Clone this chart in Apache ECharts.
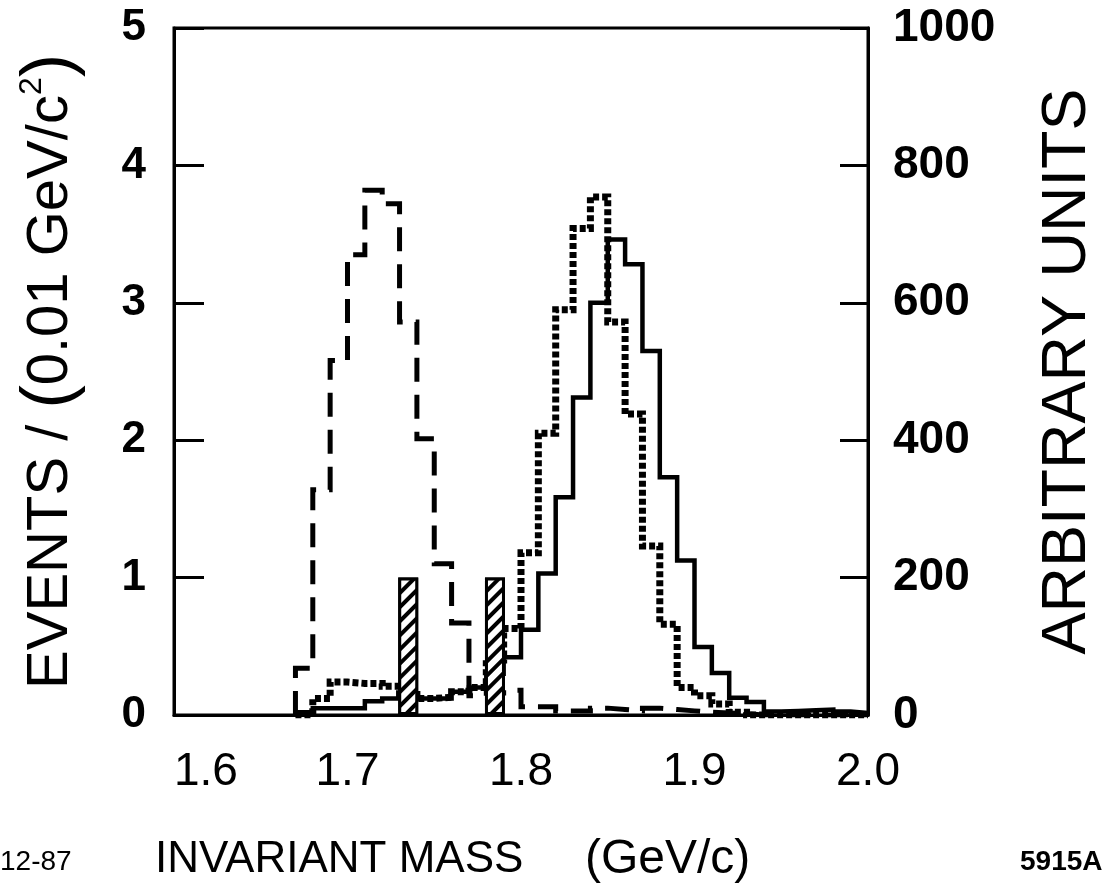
<!DOCTYPE html>
<html><head><meta charset="utf-8">
<script src="https://cdn.jsdelivr.net/npm/echarts@6/dist/echarts.min.js"></script>
<style>html,body{margin:0;padding:0;background:#fff}#c{width:1102px;height:896px}</style>
</head><body><div id="c"></div>
<script>
// Histogram bins: lower edge of each 0.01 GeV bin
const binLow = [1.67,1.68,1.69,1.70,1.71,1.72,1.73,1.74,1.75,1.76,1.77,1.78,1.79,1.80,1.81,1.82,1.83,1.84,1.85,1.86,1.87,1.88,1.89,1.90,1.91,1.92,1.93,1.94,1.95,1.96,1.97,1.98,1.99];
const histEnd = 2.00;
// Arbitrary-unit histograms (right axis)
const dashedUnits = [68,328,516,670,764,744,572,402,220,134,28,32,36,12,12,6,6,10,8,6,10,8,6,4,3,2,0,0,0,0,0,0,0];
const solidUnits  = [4,10,10,10,20,24,24,24,24,34,40,60,84,124,206,317,462,600,692,656,530,346,225,99,61,25,19,5,6,7,8,5,3];
const dottedUnits = [0,24,48,46,46,42,30,24,26,34,40,80,126,236,410,590,708,754,572,438,246,132,40,28,16,4,0,0,0,0,0,0,0];
// Observed events (left axis), hatched bins
const hatchedBinLow = [1.73, 1.78];
const hatchedEvents = [1, 1];
const xTicks = ['1.6','1.7','1.8','1.9','2.0'];

const FONT = '"Liberation Sans", Arial, Helvetica, sans-serif';

function stepData(vals) {
  const d = [[binLow[0], 0]];
  for (let i = 0; i < binLow.length; i++) d.push([binLow[i], vals[i]]);
  d.push([histEnd, vals[vals.length - 1]]);
  return d;
}
const barData = hatchedBinLow.map((x, i) => [x + 0.005, hatchedEvents[i]]);

const chart = echarts.init(document.getElementById('c'));
chart.setOption({
  animation: false,
  backgroundColor: '#fff',
  grid: { left: 174, right: 234, top: 28, bottom: 181, show: true, borderColor: '#000', borderWidth: 3, backgroundColor: 'transparent', outerBoundsMode: 'none', containLabel: false },
  xAxis: {
    type: 'value', min: 1.6, max: 2.0, interval: 0.1,
    axisLine: { show: true, lineStyle: { color: '#000', width: 3 } },
    axisTick: { show: false },
    splitLine: { show: false },
    axisLabel: {
      color: '#000', fontSize: 46, fontFamily: FONT, margin: 34,
      alignMinLabel: 'left',
      formatter: (v) => { const s = v.toFixed(1); return xTicks.indexOf(s) >= 0 ? s : ''; }
    }
  },
  yAxis: [
    {
      type: 'value', min: 0, max: 5, interval: 1, position: 'left',
      axisLine: { show: true, lineStyle: { color: '#000', width: 3 } },
      axisTick: { show: true, inside: true, length: 30, lineStyle: { color: '#000', width: 3 } },
      splitLine: { show: false },
      axisLabel: { color: '#000', fontSize: 44, fontWeight: 'bold', fontFamily: FONT, margin: 28 },
      name: '{t|EVENTS / }{p|(}{t|0.01 GeV/c}{s|2}{p|)}',
      nameLocation: 'middle', nameGap: 88, nameRotate: 90,
      nameTextStyle: {
        color: '#000', fontFamily: FONT,
        rich: {
          t: { fontSize: 58, fontFamily: FONT, color: '#000' },
          p: { fontSize: 70, fontFamily: FONT, color: '#000' },
          s: { fontSize: 32, fontFamily: FONT, color: '#000', verticalAlign: 'top', padding: [0, 0, 22, 0] }
        }
      }
    },
    {
      type: 'value', min: 0, max: 1000, interval: 200, position: 'right',
      axisLine: { show: true, lineStyle: { color: '#000', width: 3 } },
      axisTick: { show: true, inside: true, length: 28, lineStyle: { color: '#000', width: 3 } },
      splitLine: { show: false },
      axisLabel: { color: '#000', fontSize: 46, fontWeight: 'bold', fontFamily: FONT, margin: 25, formatter: (v) => String(v) },
      name: 'ARBITRARY UNITS',
      nameLocation: 'middle', nameGap: 168, nameRotate: 90,
      nameTextStyle: { color: '#000', fontSize: 63, fontFamily: FONT }
    }
  ],
  series: [
    {
      name: 'dashed', type: 'line', step: 'end', yAxisIndex: 1, symbol: 'none', z: 3,
      lineStyle: { color: '#000', width: 5, type: [24, 13], join: 'miter' },
      data: stepData(dashedUnits)
    },
    {
      name: 'dotted', type: 'line', step: 'end', yAxisIndex: 1, symbol: 'none', z: 3,
      lineStyle: { color: '#000', width: 7, type: [6, 3], join: 'miter' },
      data: stepData(dottedUnits)
    },
    {
      name: 'solid', type: 'line', step: 'end', yAxisIndex: 1, symbol: 'none', z: 4,
      lineStyle: { color: '#000', width: 4.5, join: 'miter' },
      data: stepData(solidUnits)
    },
    {
      name: 'events', type: 'bar', yAxisIndex: 0, barWidth: 20, z: 6,
      itemStyle: {
        color: '#fff', borderColor: '#000', borderWidth: 3,
        decal: { symbol: 'rect', symbolSize: 1, color: '#000', backgroundColor: '#fff', dashArrayX: [[1, 0]], dashArrayY: [4, 6], rotation: -Math.PI / 4 }
      },
      data: barData
    }
  ],
  graphic: [
    { type: 'text', left: 155, top: 838, style: { text: 'INVARIANT MASS', font: '44px ' + FONT, fill: '#000' } },
    { type: 'text', left: 585, top: 836, style: { text: '(GeV/c)', font: '48px ' + FONT, fill: '#000' } },
    { type: 'text', left: 0, top: 848, style: { text: '12-87', font: '28px ' + FONT, fill: '#000' } },
    { type: 'text', left: 1020, top: 848, style: { text: '5915A2', font: 'bold 28px ' + FONT, fill: '#000' } }
  ]
});
</script>
</body></html>
